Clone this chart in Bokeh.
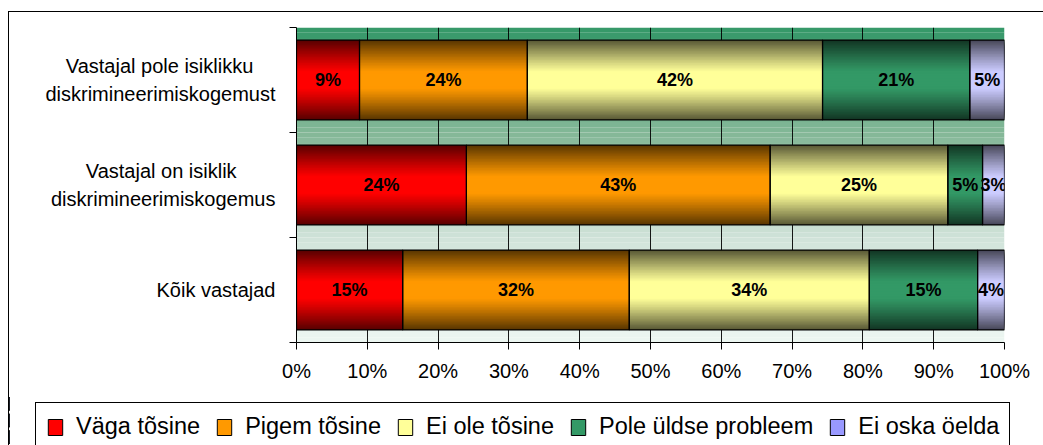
from bokeh.plotting import figure
from bokeh.layouts import column, row
from bokeh.models import (Range1d, FixedTicker, Legend, LegendItem, ColumnDataSource)
from bokeh.core.properties import value
from bokeh.embed import file_html
from bokeh.resources import INLINE

# ---------------- data ----------------
categories = ["Kõik vastajad",
              "Vastajal on isiklik\ndiskrimineerimiskogemus",
              "Vastajal pole isiklikku\ndiskrimineerimiskogemust"]
series_names = ["Väga tõsine", "Pigem tõsine", "Ei ole tõsine",
                "Pole üldse probleem", "Ei oska öelda"]
vaga_tosine = [15.0, 24.0, 8.9]
pigem_tosine = [32.0, 42.9, 23.7]
ei_ole_tosine = [33.9, 25.1, 41.7]
pole_uldse = [15.3, 4.9, 20.8]
ei_oska = [3.8, 3.1, 4.9]
x_ticks = [0, 10, 20, 30, 40, 50, 60, 70, 80, 90, 100]
x_tick_labels = ["0%", "10%", "20%", "30%", "40%", "50%", "60%", "70%", "80%", "90%", "100%"]

series_values = [vaga_tosine, pigem_tosine, ei_ole_tosine, pole_uldse, ei_oska]

# ---------------- style ----------------
center_colors = [(255, 0, 0), (255, 153, 0), (255, 255, 153), (51, 153, 102), (204, 204, 255)]
legend_colors = ["#ff0000", "#ff9900", "#ffff99", "#339966", "#9999ff"]
EDGE = 0.36
FONT = "Liberation Sans"
BAR_H = 0.76
# approximate centring of two-line labels (right-aligned by the axis): pad short line
line_pad = {0: 0, 1: 7, 2: 4}


def hexc(c):
    return "#%02x%02x%02x" % tuple(int(round(max(0, min(255, v)))) for v in c)


def mix(a, b, t):
    return tuple(a[i] + (b[i] - a[i]) * t for i in range(3))


def centred(label, pad):
    if "\n" not in label:
        return label
    a, b = label.split("\n")
    return a + "\u00a0" * pad + "\n" + b


y_centers = [i + 0.5 for i in range(len(categories))]

p = figure(frame_width=708, frame_height=315, min_border_left=287, min_border_right=39,
           min_border_top=15, min_border_bottom=53,
           x_range=Range1d(0, 100), y_range=Range1d(0, len(categories)),
           output_backend="svg", toolbar_location=None, tools="")
p.outline_line_color = None
p.background_fill_color = "white"

# background gradient of plot area (top green -> pale bottom)
stops = [(0.0, (52, 152, 104)), (0.34, (133, 184, 152)), (0.67, (208, 227, 217)),
         (0.82, (229, 241, 235)), (1.0, (236, 246, 241))]
nb = 60
top_v = len(categories)
bb, bt, bc = [], [], []
for i in range(nb):
    t = (i + 0.5) / nb
    for j in range(len(stops) - 1):
        if stops[j][0] <= t <= stops[j + 1][0]:
            tt = (t - stops[j][0]) / (stops[j + 1][0] - stops[j][0])
            col = mix(stops[j][1], stops[j + 1][1], tt)
            break
    bt.append(top_v - top_v * i / nb)
    bb.append(top_v - top_v * (i + 1) / nb)
    bc.append(hexc(col))
bg = p.quad(left=0, right=100, bottom=bb, top=bt, fill_color=bc, line_color=None)
bg.level = "image"

# stacked segments
ys, lefts, rights, cidx, labs = [], [], [], [], []
for si, vals in enumerate(series_values):
    for ci, v in enumerate(vals):
        start = sum(series_values[k][ci] for k in range(si))
        ys.append(y_centers[ci])
        lefts.append(start)
        rights.append(start + v)
        cidx.append(si)
        labs.append(f"{round(v)}%")

# gradient layers: nested bars, dark at top/bottom edges, bright center
N = 26
for k in range(N):
    s = 1 - k / N           # relative half-height (1 = edge)
    b = 1.0 if s <= 0.22 else max(0.0, 1 - ((s - 0.22) / 0.78) ** 1.1)
    cols = [hexc(mix(tuple(c * EDGE for c in center_colors[ci]), center_colors[ci], b)) for ci in cidx]
    src = ColumnDataSource(dict(y=ys, l=lefts, r=rights, c=cols))
    p.hbar(y="y", left="l", right="r", height=BAR_H * s, source=src,
           fill_color="c", line_color=None)

src_o = ColumnDataSource(dict(y=ys, l=lefts, r=rights, t=labs,
                              xm=[(a + b) / 2 for a, b in zip(lefts, rights)]))
p.hbar(y="y", left="l", right="r", height=BAR_H, source=src_o,
       fill_alpha=0, line_color="black", line_width=1.2)
p.text(x="xm", y="y", text="t", source=src_o, text_align="center", text_baseline="middle",
       text_font=value(FONT), text_font_style="bold", text_font_size="18px", text_color="black")

# axes
p.xaxis.ticker = FixedTicker(ticks=x_ticks)
p.xaxis.major_label_overrides = {t: l for t, l in zip(x_ticks, x_tick_labels)}
p.xaxis.major_label_text_font = FONT
p.xaxis.major_label_text_font_size = "20px"
p.xaxis.major_label_text_color = "black"
p.xaxis.major_tick_out = 7
p.xaxis.major_tick_in = 0
p.xaxis.minor_tick_line_color = None
p.xaxis.major_label_standoff = 10
p.xaxis.axis_line_color = "black"
p.xaxis.major_tick_line_color = "black"

p.yaxis.ticker = FixedTicker(ticks=y_centers, minor_ticks=list(range(len(categories) + 1)))
p.yaxis.major_label_overrides = {y: centred(c, line_pad[i])
                                 for i, (y, c) in enumerate(zip(y_centers, categories))}
p.yaxis.major_label_text_font = FONT
p.yaxis.major_label_text_font_size = "20px"
p.yaxis.major_label_text_color = "black"
p.yaxis.major_label_text_line_height = 1.25
p.yaxis.major_tick_line_color = None
p.yaxis.minor_tick_out = 7
p.yaxis.minor_tick_in = 0
p.yaxis.minor_tick_line_color = "black"
p.yaxis.major_label_standoff = 14
p.yaxis.axis_line_color = "black"

p.xgrid.ticker = FixedTicker(ticks=x_ticks)
p.xgrid.grid_line_color = "black"
p.xgrid.grid_line_alpha = 0.9
p.ygrid.grid_line_color = None

# ---------------- legend strip (separate figure below the chart) ----------------
pl = figure(width=1034, height=50, min_border=0, x_axis_location=None, y_axis_location=None,
            x_range=Range1d(200, 300), y_range=Range1d(0, len(categories)),
            output_backend="svg", toolbar_location=None, tools="")
pl.outline_line_color = None
pl.grid.grid_line_color = None
legend_items = []
for si, name in enumerate(series_names):
    idx = [k for k in range(len(ys)) if cidx[k] == si]
    src = ColumnDataSource(dict(y=[ys[k] for k in idx], l=[lefts[k] for k in idx],
                                r=[rights[k] for k in idx]))
    r = pl.hbar(y="y", left="l", right="r", height=BAR_H, source=src,
                fill_color=legend_colors[si], line_color="black", line_width=1)
    legend_items.append(LegendItem(label=name, renderers=[r]))

legend = Legend(items=legend_items, orientation="horizontal", location=(26, -6),
                label_text_font=FONT, label_text_font_size="23.5px", label_text_color="black",
                glyph_width=18, glyph_height=20, label_standoff=12, spacing=15,
                padding=10, margin=0, border_line_color="black", border_line_width=1,
                border_line_alpha=1, background_fill_color="white", background_fill_alpha=1)
pl.add_layout(legend, "center")

layout = column(p, row(pl, spacing=0), spacing=0)
layout.styles = {"margin-left": "8px", "margin-top": "11px",
                 "border-left": "1px solid black", "border-top": "1px solid black"}

open("out.html", "w").write(file_html(layout, INLINE))
